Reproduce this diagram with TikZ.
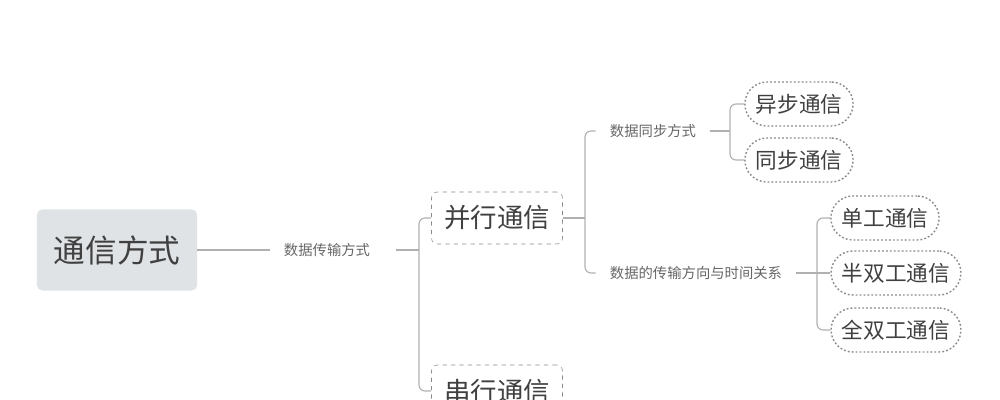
\documentclass[tikz,border=0pt]{standalone}
\usepackage{fontspec}
\newfontfamily\cjk{Noto Sans CJK SC}
\definecolor{rootfill}{HTML}{DFE3E5}
\definecolor{ink}{HTML}{404040}
\definecolor{linkgray}{HTML}{B0B0B0}
\definecolor{framegray}{HTML}{8A8A8A}

\begin{document}
\begin{tikzpicture}[x=0.025cm, y=-0.025cm,
   root/.style = {fill=rootfill, rounded corners=0.13cm, text=ink,
                  minimum width=4cm, minimum height=2.025cm,
                  font=\cjk\fontsize{22.5}{26}\selectfont},
    sub/.style = {draw=framegray, dashed, rounded corners=0.15cm, text=ink,
                  minimum width=3.275cm, minimum height=1.3cm,
                  font=\cjk\fontsize{18.8}{22}\selectfont},
   leaf/.style = {draw=framegray, line width=1pt, dash pattern=on 1.3pt off 1.5pt,
                  rounded corners=0.55cm, text=ink,
                  inner xsep=0.27cm, minimum height=1.1cm,
                  font=\cjk\fontsize{15.4}{18}\selectfont},
    lab/.style = {text=ink!80, inner xsep=0.35cm,
                  font=\cjk\fontsize{10.2}{12}\selectfont},
   link/.style = {draw=linkgray, line width=0.8pt},
  elbow/.style = {link, rounded corners=0.15cm}
                        ]
\clip (0,0) rectangle (1000,400);
% nodes
    \node[root] (root) at (117,250) {通信方式};
    \node[lab]  (way)  at (327,250) {数据传输方式};
    \node[sub]  (par)  at (497,218) {并行通信};
    \node[sub]  (ser)  at (497,391) {串行通信};
    \node[lab]  (sync) at (653,131) {数据同步方式};
    \node[lab]  (dir)  at (696,273) {数据的传输方向与时间关系};
    \node[leaf] (asyn) at (799,104) {异步通信};
    \node[leaf] (syn)  at (799,160) {同步通信};
    \node[leaf] (simp) at (885,218) {单工通信};
    \node[leaf] (half) at (896,273) {半双工通信};
    \node[leaf] (full) at (896,330) {全双工通信};
% joints
\coordinate (j1) at (419,250);
\coordinate (j2) at (585,218);
\coordinate (j3) at (730,131);
\coordinate (j4) at (817,273);
% connectors
    \draw[link] (root) -- (way);
    \draw[link] ([xshift=0.3cm]way.east) -- (j1);
    \draw[elbow] (par.west) -| (j1) |- (ser.west);
    \draw[link] (par.east) -- (j2);
    \draw[elbow] (sync.west) -| (j2) |- (dir.west);
    \draw[link] (sync.east) -- (j3);
    \draw[elbow] (asyn.west) -| (j3) |- (syn.west);
    \draw[link] (dir.east) -- (j4);
    \draw[elbow] (simp.west) -| (j4) |- (full.west);
    \draw[link] (j4) -- (half.west);
\end{tikzpicture}
\end{document}
